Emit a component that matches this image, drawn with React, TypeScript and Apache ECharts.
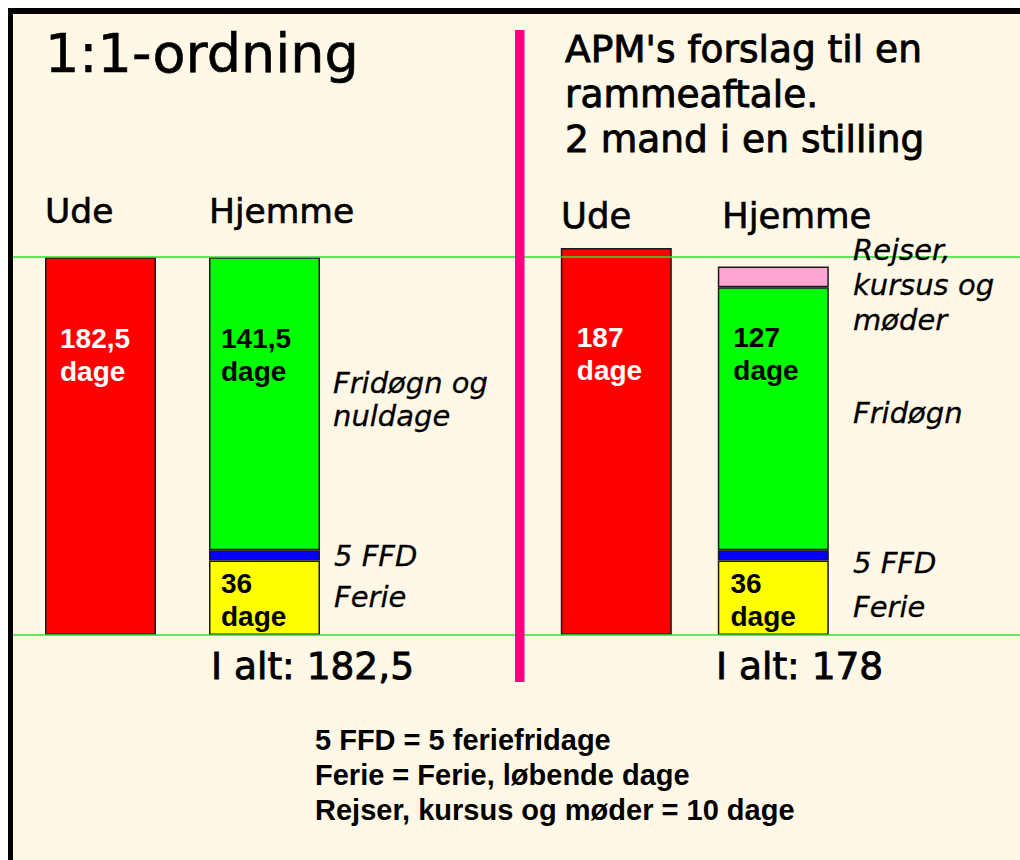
import React, { useEffect, useRef } from "react";
import * as echarts from "echarts";

// ---- data ----
const categories = ["Ude", "Hjemme"];
const leftUde = [182.5, null];
const leftFerie = [null, 36];
const leftFFD = [null, 5];
const leftFridogn = [null, 141.5];
const rightUde = [187, null];
const rightFerie = [null, 36];
const rightFFD = [null, 5];
const rightFridogn = [null, 127];
const rightRejser = [null, 10];
const yMax = 200;

const leftTitle = "1:1-ordning";
const rightTitle = "APM's forslag til en\nrammeaftale.\n2 mand i en stilling";
const leftNotes = { fri: "Fridøgn og\nnuldage", ffd: "5 FFD", ferie: "Ferie" };
const rightNotes = { rejser: "Rejser,\nkursus og\nmøder", fri: "Fridøgn", ffd: "5 FFD", ferie: "Ferie" };
const footnotes = "5 FFD = 5 feriefridage\nFerie = Ferie, løbende dage\nRejser, kursus og møder = 10 dage";

const SANS = "'DejaVu Sans', Verdana, sans-serif";
const ARIAL = "'Liberation Sans', Arial, sans-serif";

const fmt = (v: number) => String(v).replace(".", ",");
const sumH = (...arrs: (number | null)[][]) =>
  arrs.reduce((s, a) => s + (a[1] || 0), 0);

function txt(
  x: number,
  baseline: number,
  text: string,
  fs: number,
  lh: number,
  extra: any = {}
) {
  const center = baseline - 0.35 * fs;
  const top = center - lh / 2;
  return {
    type: "text",
    x,
    y: top,
    z: 20,
    style: {
      text,
      fontSize: fs,
      lineHeight: lh,
      fontFamily: SANS,
      fill: "#000",
      align: "left",
      verticalAlign: "top",
      ...extra,
    },
  };
}

function barLabel(pos: number[], color: string) {
  return {
    show: true,
    position: pos,
    color,
    fontSize: 28,
    fontWeight: "bold",
    fontFamily: ARIAL,
    lineHeight: 33,
    formatter: (p: any) => `${fmt(p.value)}\ndage`,
  };
}

const border = { borderColor: "#1a1a1a", borderWidth: 1.5 };

function bar(
  name: string,
  data: (number | null)[],
  color: string,
  axis: number,
  label?: any
) {
  return {
    type: "bar",
    name,
    data,
    stack: "s" + axis,
    xAxisIndex: axis,
    yAxisIndex: axis,
    barWidth: 111,
    itemStyle: { color, ...border },
    label: label || { show: false },
    z: 2,
  };
}

const heavy = (w: number) => ({ stroke: "#000", lineWidth: w });

export default function App() {
  const ref = useRef<HTMLDivElement>(null);
  useEffect(() => {
    if (!ref.current) return;
    const chart = echarts.init(ref.current, null, { renderer: "svg" });
    const leftTotal = sumH(leftFerie, leftFFD, leftFridogn);
    const rightTotal = sumH(rightFerie, rightFFD, rightFridogn, rightRejser);
    const option: any = {
      animation: false,
      backgroundColor: "#FFF8E6",
      grid: [
        { left: 10.5, width: 328, top: 213, height: 414 },
        { left: 529.8, width: 314, top: 213, height: 414 },
      ],
      xAxis: [0, 1].map((i) => ({
        type: "category",
        gridIndex: i,
        data: categories,
        show: false,
      })),
      yAxis: [0, 1].map((i) => ({
        type: "value",
        gridIndex: i,
        min: 0,
        max: yMax,
        show: false,
        splitLine: { show: false },
      })),
      series: [
        bar("Ude", leftUde, "#FF0000", 0, barLabel([15, 65], "#fff")),
        bar("Ferie", leftFerie, "#FFFF00", 0, barLabel([12, 6.5], "#000")),
        bar("5 FFD", leftFFD, "#0000FF", 0),
        bar("Fridøgn", leftFridogn, "#00FF00", 0, barLabel([12, 65], "#000")),
        bar("Ude", rightUde, "#FF0000", 1, barLabel([16, 73], "#fff")),
        bar("Ferie", rightFerie, "#FFFF00", 1, barLabel([12.7, 6.5], "#000")),
        bar("5 FFD", rightFFD, "#0000FF", 1),
        bar("Fridøgn", rightFridogn, "#00FF00", 1, barLabel([15.5, 33.5], "#000")),
        bar("Rejser", rightRejser, "#FFA6D5", 1),
      ],
      graphic: [
        // frame borders
        { type: "rect", shape: { x: 0, y: 0, width: 1012, height: 6 }, style: { fill: "#000" }, z: 30 },
        { type: "rect", shape: { x: -1, y: 0, width: 6, height: 852 }, style: { fill: "#000" }, z: 30 },
        // green reference lines
        { type: "line", shape: { x1: 5, y1: 249, x2: 1012, y2: 249 }, style: { stroke: "#2ee02e", lineWidth: 1.3 }, z: 10 },
        { type: "line", shape: { x1: 5, y1: 627, x2: 1012, y2: 627 }, style: { stroke: "#2ee02e", lineWidth: 1.3 }, z: 10 },
        // pink divider
        { type: "rect", shape: { x: 507, y: 22, width: 9.5, height: 652 }, style: { fill: "#FF0080" }, z: 10 },
        // titles
        txt(37, 64, leftTitle, 54, 60, heavy(0.6)),
        txt(557, 54, rightTitle, 37.5, 45, heavy(0.9)),
        // headers
        txt(37, 215, categories[0], 34.5, 40, heavy(0.6)),
        txt(201, 215, categories[1], 34.5, 40, heavy(0.6)),
        txt(553, 220, categories[0], 35.5, 40, heavy(0.6)),
        txt(714, 220, categories[1], 35.5, 40, heavy(0.6)),
        // totals
        txt(203, 671, `I alt: ${fmt(leftTotal)}`, 37.5, 40, heavy(0.9)),
        txt(708, 671, `I alt: ${fmt(rightTotal)}`, 37.5, 40, heavy(0.9)),
        // italic annotations
        txt(325, 385, leftNotes.fri, 29, 33.5, { fontStyle: "italic", ...heavy(0.3) }),
        txt(326, 557.7, leftNotes.ffd, 29, 33, { fontStyle: "italic", ...heavy(0.3) }),
        txt(326, 599.3, leftNotes.ferie, 29, 33, { fontStyle: "italic", ...heavy(0.3) }),
        txt(845, 252, rightNotes.rejser, 29, 35, { fontStyle: "italic", ...heavy(0.3) }),
        txt(845, 415.3, rightNotes.fri, 29, 33, { fontStyle: "italic", ...heavy(0.3) }),
        txt(845, 565.3, rightNotes.ffd, 29, 33, { fontStyle: "italic", ...heavy(0.3) }),
        txt(845, 608.7, rightNotes.ferie, 29, 33, { fontStyle: "italic", ...heavy(0.3) }),
        // footnotes
        txt(307, 742, footnotes, 29, 35.3, { fontFamily: ARIAL, fontWeight: "bold" }),
      ],
    };
    chart.setOption(option);
    return () => chart.dispose();
  }, []);
  return (
    <div
      ref={ref}
      style={{ position: "fixed", left: 8, top: 8, width: 1012, height: 852 }}
    />
  );
}
